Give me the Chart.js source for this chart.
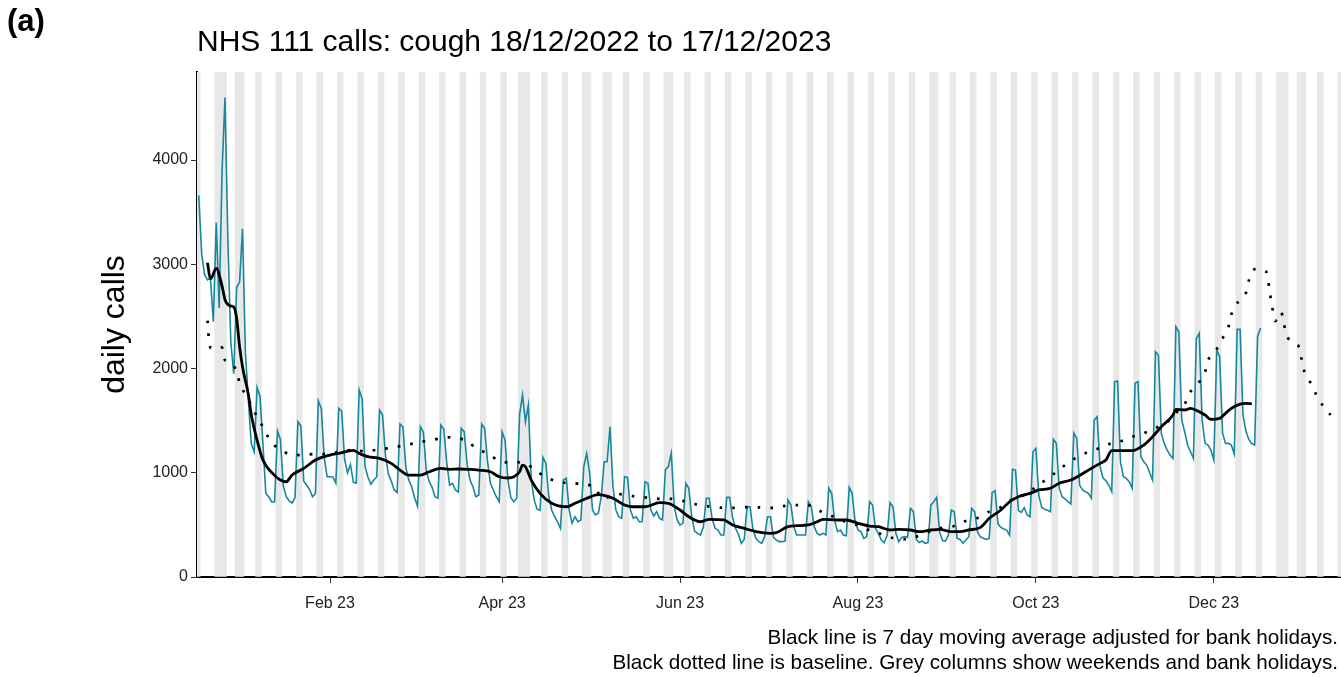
<!DOCTYPE html>
<html>
<head>
<meta charset="utf-8">
<script src="https://cdn.jsdelivr.net/npm/chart.js@4.4.1/dist/chart.umd.min.js"></script>
<style>
html, body { margin: 0; padding: 0; background: #fff; }
#wrap { width: 1341px; height: 677px; position: relative; }
</style>
</head>
<body>
<div id="wrap"><canvas id="cough-chart"></canvas></div>
<script>
// NHS 111 cough calls, one value per day from 18/12/2022
var startDate = "2022-12-18";
var dailyCalls = [
    3660, 3100, 2900, 2850, 2870, 2450, 3400,
    2580, 3900, 4600, 3200, 2250, 1950, 2780,
    2830, 3340, 2150, 1700, 1280, 1200, 1820,
    1730, 1280, 800, 770, 720, 720, 1400,
    1320, 870, 770, 730, 710, 760, 1490,
    1450, 920, 880, 840, 770, 800, 1690,
    1620, 1150, 962, 962, 960, 900, 1618,
    1590, 1130, 1000, 1080, 910, 900, 1794,
    1710, 1060, 960, 890, 930, 960, 1600,
    1554, 1170, 990, 920, 835, 810, 1468,
    1440, 1050, 930, 866, 760, 680, 1442,
    1390, 1020, 914, 860, 770, 755, 1458,
    1420, 1100, 882, 899, 835, 815, 1426,
    1394, 1080, 930, 866, 770, 787, 1468,
    1426, 1110, 899, 835, 770, 722, 1394,
    1314, 930, 760, 722, 755, 1560, 1746,
    1490, 1650, 930, 740, 650, 640, 1148,
    1090, 770, 643, 578, 530, 467, 930,
    946, 640, 515, 578, 530, 547, 1058,
    1186, 1000, 643, 595, 611, 770, 1106,
    1106, 1442, 870, 643, 578, 563, 962,
    956, 643, 563, 578, 530, 530, 914,
    899, 643, 585, 627, 563, 547, 1030,
    1060, 1186, 680, 547, 499, 515, 899,
    851, 578, 440, 419, 403, 480, 755,
    755, 560, 467, 451, 403, 403, 764,
    764, 570, 470, 410, 323, 360, 674,
    674, 460, 371, 339, 323, 387, 578,
    578, 380, 355, 339, 339, 345, 739,
    691, 483, 403, 403, 403, 403, 722,
    674, 483, 419, 403, 419, 403, 851,
    803, 540, 435, 451, 403, 395, 860,
    803, 540, 451, 435, 371, 387, 722,
    691, 467, 419, 355, 329, 400, 713,
    674, 420, 339, 380, 387, 380, 659,
    627, 360, 330, 345, 323, 330, 691,
    722, 764, 430, 350, 345, 400, 643,
    627, 371, 361, 323, 355, 387, 659,
    627, 430, 385, 371, 360, 371, 809,
    828, 510, 475, 460, 450, 400, 1033,
    1026, 640, 620, 665, 595, 578, 1202,
    1234, 780, 670, 649, 640, 627, 1321,
    1282, 850, 770, 750, 722, 700, 1380,
    1330, 880, 835, 818, 803, 755, 1506,
    1538, 1060, 950, 925, 880, 818, 1874,
    1880, 1100, 962, 946, 914, 851, 1858,
    1874, 1154, 1106, 1074, 1000, 930, 2161,
    2129, 1378, 1282, 1218, 1170, 1138, 2401,
    2353, 1506, 1394, 1266, 1202, 1138, 2289,
    2337, 1500, 1282, 1266, 1218, 1122, 2177,
    2113, 1380, 1282, 1282, 1266, 1180, 2376,
    2376, 1550, 1400, 1320, 1280, 1266, 2305,
    2390
];

// 7 day moving average (days after start date)
var maDays = [3, 4, 6, 8, 9, 11, 12, 13, 14, 15, 17, 18, 20, 22, 26, 28, 30, 32, 36, 40,
    45, 48, 53, 55, 58, 62, 66, 69, 72, 76, 79, 83, 86, 89, 93, 96, 100, 103, 106, 110,
    111, 112, 114, 117, 121, 126, 129, 133, 137, 142, 146, 149, 153, 158, 161, 165, 168, 172, 175, 180,
    183, 187, 191, 196, 198, 202, 205, 209, 212, 214, 219, 222, 226, 230, 233, 237, 240, 244, 247, 251,
    254, 258, 261, 264, 268, 271, 275, 278, 281, 285, 288, 292, 295, 299, 306, 309, 311, 313, 316, 320,
    324, 327, 330, 334, 335, 338, 340, 343, 345, 347, 350, 352, 354, 357, 359, 361];
var maCalls = [3015, 2860, 2960, 2790, 2660, 2600, 2590, 2480, 2210, 2017, 1750, 1560, 1314, 1122, 975, 930, 914, 978, 1042, 1122,
    1170, 1186, 1214, 1186, 1154, 1138, 1090, 1026, 978, 978, 1010, 1042, 1033, 1036, 1033, 1026, 1010, 962, 950, 1010,
    1074, 1058, 930, 803, 707, 674, 707, 755, 790, 755, 691, 674, 674, 713, 707, 643, 578, 530, 553, 547,
    499, 467, 435, 419, 425, 483, 492, 499, 530, 553, 547, 547, 515, 489, 483, 451, 457, 451, 435, 451,
    457, 435, 435, 451, 476, 563, 643, 722, 770, 803, 835, 851, 899, 930, 1042, 1090, 1122, 1212, 1212, 1212,
    1266, 1346, 1442, 1554, 1609, 1602, 1618, 1586, 1554, 1513, 1522, 1570, 1618, 1659, 1666, 1662];

// baseline (days after start date)
var baseDays = [3, 4, 6, 8, 9, 11, 13, 14, 16, 18, 20, 22, 24, 27, 31, 35, 40, 44, 48, 53,
    57, 62, 66, 70, 75, 79, 83, 87, 92, 95, 99, 103, 106, 110, 113, 116, 120, 124, 128, 132,
    136, 138, 145, 149, 154, 158, 162, 166, 170, 174, 179, 183, 188, 192, 197, 201, 205, 209, 213, 217,
    221, 226, 230, 234, 238, 242, 246, 250, 254, 259, 263, 267, 271, 275, 278, 283, 286, 289, 293, 296,
    300, 304, 308, 312, 316, 320, 324, 328, 332, 335, 338, 340, 343, 345, 346, 349, 351, 353, 354, 356,
    359, 360, 362, 366, 367, 368, 369, 371, 372, 373, 375, 377, 378, 379, 381, 383, 385, 388];
var baseCalls = [2460, 2200, 2190, 2200, 2080, 2050, 1980, 1860, 1750, 1650, 1535, 1440, 1335, 1235, 1180, 1170, 1180, 1180, 1200, 1220,
    1205, 1225, 1240, 1260, 1290, 1310, 1330, 1340, 1305, 1235, 1185, 1115, 1100, 1100, 1075, 1010, 945, 910, 900, 890,
    860, 760, 795, 775, 760, 750, 750, 730, 700, 680, 665, 663, 670, 668, 663, 683, 690, 690, 633, 585,
    537, 495, 447, 412, 374, 362, 386, 430, 468, 489, 537, 566, 627, 670, 731, 787, 843, 905, 987, 1053,
    1131, 1188, 1228, 1275, 1302, 1345, 1380, 1428, 1486, 1573, 1659, 1777, 1872, 1968, 2082, 2187, 2290, 2399, 2521, 2627,
    2725, 2845, 2954, 2926, 2760, 2600, 2456, 2542, 2436, 2312, 2245, 2216, 2101, 1976, 1871, 1755, 1659, 1554];

var bankHolidays = ["2022-12-26", "2022-12-27", "2023-01-02", "2023-04-07", "2023-04-10", "2023-05-01",
    "2023-05-08", "2023-05-29", "2023-08-28", "2023-12-25", "2023-12-26", "2024-01-01"];

var tickDates = ["2023-02-01", "2023-04-01", "2023-06-01", "2023-08-01", "2023-10-01", "2023-12-01"];
var tickLabels = ["Feb 23", "Apr 23", "Jun 23", "Aug 23", "Oct 23", "Dec 23"];
var yTicks = [0, 1000, 2000, 3000, 4000];

var yMax = 4845;
var lastDay = 392;
var fam = "'Liberation Sans', Arial, sans-serif";

function dayIndex(s) {
    var p = s.split("-");
    var p0 = startDate.split("-");
    return Math.round((Date.UTC(p[0], p[1] - 1, p[2]) - Date.UTC(p0[0], p0[1] - 1, p0[2])) / 86400000);
}

var holidayIdx = bankHolidays.map(dayIndex);
var greyCols = [];
for (var d = 0; d <= lastDay; d++) {
    var p0 = startDate.split("-");
    var dow = new Date(Date.UTC(p0[0], p0[1] - 1, +p0[2] + d)).getUTCDay();
    if (dow == 0 || dow == 6 || holidayIdx.indexOf(d) >= 0) {
        greyCols.push({x: d, y: yMax});
    }
}

var tickDays = tickDates.map(dayIndex);

var callsData = dailyCalls.map(function(v, i){ return {x: i, y: v}; });
var maData = maDays.map(function(d, i){ return {x: d, y: maCalls[i]}; });
var baseData = baseDays.map(function(d, i){ return {x: d, y: baseCalls[i]}; });

var textPlugin = {
    id: "textPlugin",
    afterDraw: function(chart){
        var ctx = chart.ctx;
        var area = chart.chartArea;
        ctx.save();
        ctx.fillStyle = "#000";
        ctx.textBaseline = "alphabetic";

        ctx.font = "bold 31px " + fam;
        ctx.textAlign = "left";
        ctx.fillText("(a)", 7, 31);

        ctx.font = "30px " + fam;
        ctx.fillText("NHS 111 calls: cough 18/12/2022 to 17/12/2023", area.left, 51);

        ctx.font = "20.7px " + fam;
        ctx.textAlign = "right";
        ctx.fillText("Black line is 7 day moving average adjusted for bank holidays.", 1338, 644);
        ctx.fillText("Black dotted line is baseline. Grey columns show weekends and bank holidays.", 1338, 669);

        ctx.translate(124, (area.top + area.bottom) / 2);
        ctx.rotate(-Math.PI / 2);
        ctx.textAlign = "center";
        ctx.font = "32px " + fam;
        ctx.fillText("daily calls", 0, 0);
        ctx.restore();
    }
};

var ctx = document.getElementById("cough-chart");

var chart = new Chart(ctx, {
    data: {
        datasets: [
            {
                type: "line",
                label: "Daily calls",
                data: callsData,
                borderColor: "#17879b",
                borderWidth: 1.6,
                pointRadius: 0,
                tension: 0,
                order: 3
            },
            {
                type: "line",
                label: "Baseline",
                data: baseData,
                borderColor: "#000",
                borderWidth: 2.7,
                borderDash: [2.7, 10],
                borderCapStyle: "butt",
                pointRadius: 0,
                tension: 0.3,
                order: 2
            },
            {
                type: "line",
                label: "7 day moving average",
                data: maData,
                borderColor: "#000",
                borderWidth: 2.8,
                pointRadius: 0,
                cubicInterpolationMode: "monotone",
                order: 1
            },
            {
                type: "bar",
                label: "Weekends and bank holidays",
                data: greyCols,
                backgroundColor: "#e8e8e8",
                borderWidth: 0,
                barPercentage: 1,
                categoryPercentage: 1,
                order: 10
            }
        ]
    },
    options: {
        responsive: true,
        maintainAspectRatio: false,
        animation: false,
        layout: { padding: { left: 0, right: 0, top: 72, bottom: 0 } },
        plugins: {
            legend: { display: false },
            tooltip: { enabled: false },
            title: { display: false }
        },
        scales: {
            x: {
                type: "linear",
                min: -0.6,
                max: 391.6,
                offset: false,
                grid: { offset: false, drawOnChartArea: false, drawTicks: true, tickLength: 6, color: "#333", lineWidth: 1 },
                border: { display: true, color: "#000", width: 2 },
                ticks: {
                    font: { family: fam, size: 16 },
                    color: "#222",
                    padding: 11,
                    maxRotation: 0,
                    autoSkip: false,
                    callback: function(value){
                        var i = tickDays.indexOf(value);
                        return i >= 0 ? tickLabels[i] : "";
                    }
                },
                afterBuildTicks: function(scale){
                    scale.ticks = tickDays.map(function(v){ return {value: v}; });
                },
                afterFit: function(scale){ scale.height = 100; }
            },
            y: {
                min: 0,
                max: yMax,
                grid: { drawOnChartArea: false, drawTicks: true, tickLength: 6, color: "#333", lineWidth: 1 },
                border: { display: true, color: "#000", width: 2 },
                ticks: {
                    font: { family: fam, size: 16 },
                    color: "#222",
                    padding: 3,
                    callback: function(value){ return String(value); }
                },
                afterBuildTicks: function(scale){
                    scale.ticks = yTicks.map(function(v){ return {value: v}; });
                },
                afterFit: function(scale){ scale.width = 197; }
            }
        }
    },
    plugins: [textPlugin]
});
</script>
</body>
</html>
